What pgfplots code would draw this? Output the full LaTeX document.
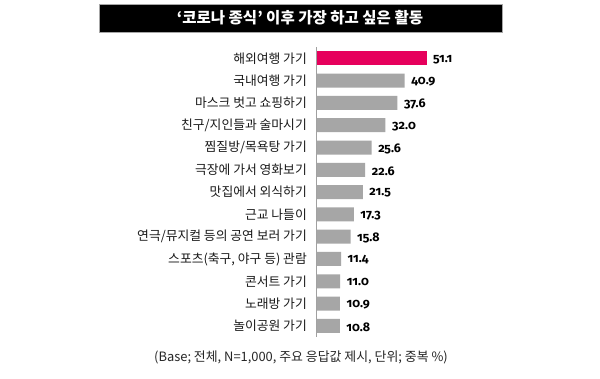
\documentclass[border=0pt]{standalone}
\usepackage{fontspec}
\usepackage{pgfplots}
\pgfplotsset{compat=1.18}
\newfontfamily\cjk{Noto Sans CJK KR}
\newfontfamily\numfont[Numbers=OldStyle]{Fira Sans}
\definecolor{pinkbar}{HTML}{E6005C}
\definecolor{graybar}{HTML}{A6A6A6}
\definecolor{axisgray}{HTML}{A0A0A0}
\begin{document}
\begin{tikzpicture}[x=1pt,y=1pt]
\useasboundingbox (0,0) rectangle (600,378);
\fill[white] (0,0) rectangle (600,378);
% title banner
\draw[fill=black,draw=gray!70,line width=0.8pt] (99,346) rectangle (502,374);
\node[text=white,font=\cjk\bfseries\fontsize{15.5}{18}\selectfont] at (300,360) {‘코로나 종식’ 이후 가장 하고 싶은 활동};
\begin{axis}[
  at={(316.5pt,41pt)}, anchor=south west,
  scale only axis,
  width=129.2pt, height=289.8pt,
  xmin=0, xmax=60,
  ymin=-0.5, ymax=12.5,
  y dir=reverse,
  axis x line=none,
  axis y line*=left,
  axis line style={draw=axisgray, line width=0.8pt},
  major tick length=0pt,
  ytick={0,...,12},
  yticklabels={해외여행 가기,국내여행 가기,마스크 벗고 쇼핑하기,친구/지인들과 술마시기,찜질방/목욕탕 가기,극장에 가서 영화보기,맛집에서 외식하기,근교 나들이,연극/뮤지컬 등의 공연 보러 가기,스포츠(축구{,} 야구 등) 관람,콘서트 가기,노래방 가기,놀이공원 가기},
  yticklabel style={font=\cjk\fontsize{12.8}{14}\selectfont, text=black!90, inner sep=0pt, xshift=-9.5pt},
  xbar, bar width=14pt, bar shift=0pt,
  clip=false,
  nodes near coords={\pgfmathprintnumber[fixed,fixed zerofill,precision=1,assume math mode=true]{\pgfplotspointmeta}},
  point meta=x,
  every node near coord/.style={font=\numfont\bfseries\fontsize{12.5}{14}\selectfont, text=black, anchor=west, inner sep=0pt, xshift=6.5pt, yshift=-1pt},
]
\addplot[fill=pinkbar, draw=none] coordinates {(51.1,0)};
\addplot[fill=graybar, draw=none] coordinates {
(40.9,1) (37.6,2) (32.0,3) (25.6,4) (22.6,5) (21.5,6) (17.3,7) (15.8,8) (11.4,9) (11.0,10) (10.9,11) (10.8,12)};
\end{axis}
\node[font=\cjk\fontsize{12.9}{14}\selectfont, text=black!85] at (301,21) {(Base; 전체, N=1,000, 주요 응답값 제시, 단위; 중복 \%)};
\end{tikzpicture}
\end{document}
